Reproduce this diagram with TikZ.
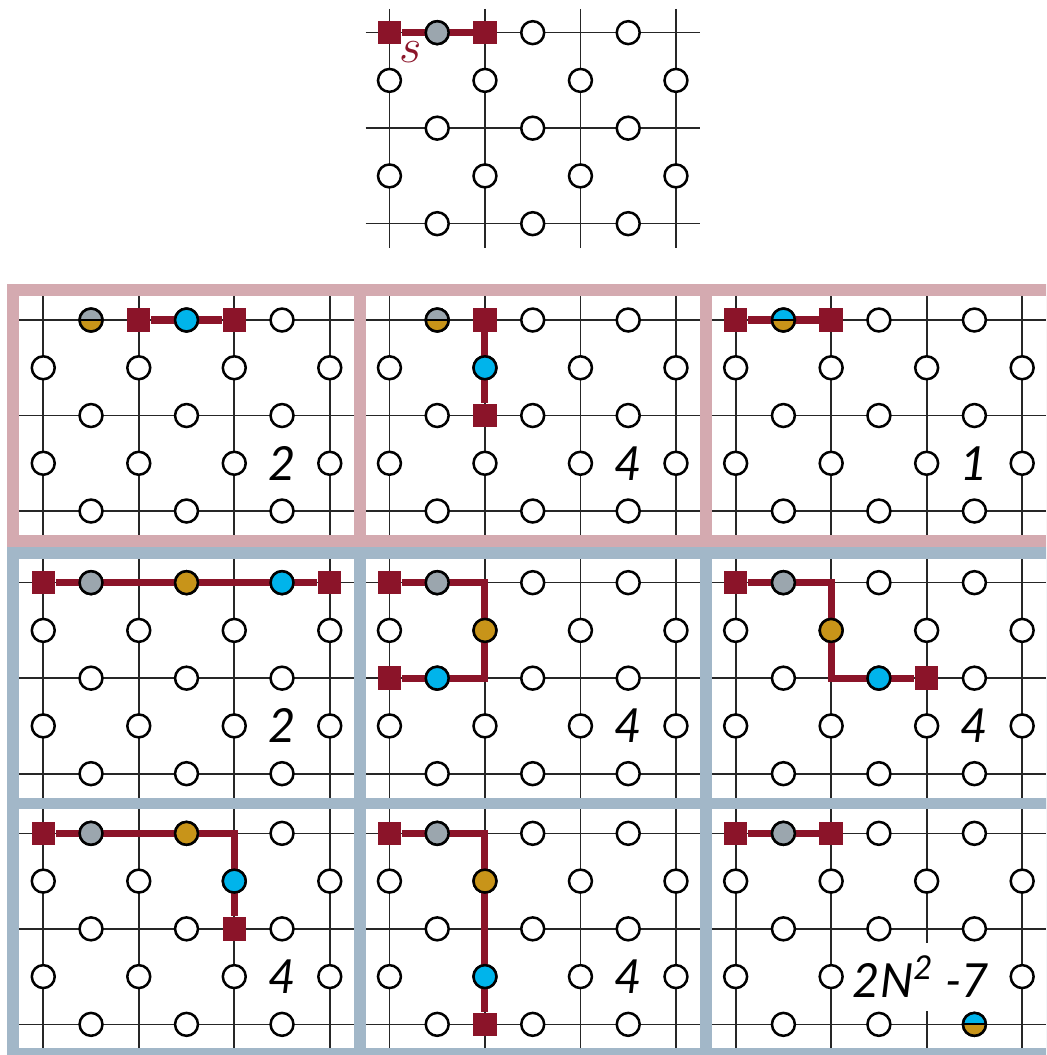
\documentclass[tikz,border=0pt]{standalone}
\usepackage{fontspec}
\usepackage{xcolor}
\usepackage{tikz}
\usetikzlibrary{positioning}

\newfontfamily\numfont{Lato}

\definecolor{wine}{RGB}{139,20,41}
\definecolor{slate}{RGB}{155,166,174}
\definecolor{ochre}{RGB}{200,148,25}
\definecolor{sky}{RGB}{0,180,235}
\definecolor{rose}{RGB}{212,170,176}
\definecolor{steel}{RGB}{162,183,200}

% one 4x3 lattice with empty sites on every bond
\newcommand{\lattice}{%
  \foreach \j in {0,1,2}
    \draw[bond] (-0.25,-\j) -- (3.25,-\j);
  \foreach \i in {0,...,3}
    \draw[bond] (\i,0.25) -- (\i,-2.25);
  \foreach \i in {0,1,2}
    \foreach \j in {0,1,2}
      \node[site] (h\i\j) at (\i+0.5,-\j) {};
  \foreach \i in {0,...,3}
    \foreach \j in {0,1}
      \node[site] (v\i\j) at (\i,-\j-0.5) {};
}

\begin{document}
\begin{tikzpicture}[
  bond/.style={line width=0.5pt, black!85},
  site/.style={circle, draw, line width=0.75pt, fill=white,
               minimum size=0.24cm, inner sep=0pt},
  endsq/.style={rectangle, fill=wine, minimum size=0.245cm, inner sep=0pt},
  chainline/.style={wine, line width=2.1pt},
  half/.style 2 args={site, path picture={
      \fill[#1] (path picture bounding box.north west)
                rectangle (path picture bounding box.east);
      \fill[#2] (path picture bounding box.west)
                rectangle (path picture bounding box.south east);
      \draw[line width=0.6pt] (path picture bounding box.west)
                -- (path picture bounding box.east);}},
  tally/.style={font=\numfont\itshape\fontsize{14}{16}\selectfont,
                fill=white, inner xsep=1pt, inner ysep=4pt},
  framebar/.style={line width=0.125cm}]

  \useasboundingbox (0,0) rectangle (10.953,-11.047);
  \clip (0,0) rectangle (10.953,-11.047);

  % starting string
  \begin{scope}[shift={(4.078,-0.342)}]
    \lattice
    \node[endsq] (a) at (0,0) {};
    \node[endsq] (b) at (1,0) {};
    \draw[chainline] (a) -- (b);
    \node[site, fill=slate] (g) at (0.5,0) {};
    \node[text=wine, font=\fontsize{15}{15}\selectfont] (slab) at (0.22,-0.2) {$s$};
  \end{scope}

  % first row
  \begin{scope}[shift={(0.453,-3.351)}]
    \lattice
    \node[half={slate}{ochre}] (g) at (0.5,0) {};
    \node[endsq] (a) at (1,0) {};
    \node[endsq] (b) at (2,0) {};
    \draw[chainline] (a) -- (b);
    \node[site, fill=sky] (c) at (1.5,0) {};
    \node[tally] (n) at (2.5,-1.5) {2};
  \end{scope}

  \begin{scope}[shift={(4.078,-3.351)}]
    \lattice
    \node[half={slate}{ochre}] (g) at (0.5,0) {};
    \node[endsq] (a) at (1,0) {};
    \node[endsq] (b) at (1,-1) {};
    \draw[chainline] (a) -- (b);
    \node[site, fill=sky] (c) at (1,-0.5) {};
    \node[tally] (n) at (2.5,-1.5) {4};
  \end{scope}

  \begin{scope}[shift={(7.703,-3.351)}]
    \lattice
    \node[endsq] (a) at (0,0) {};
    \node[endsq] (b) at (1,0) {};
    \draw[chainline] (a) -- (b);
    \node[half={sky}{ochre}] (c) at (0.5,0) {};
    \node[tally] (n) at (2.5,-1.5) {1};
  \end{scope}

  % second row
  \begin{scope}[shift={(0.453,-6.101)}]
    \lattice
    \node[endsq] (a) at (0,0) {};
    \node[endsq] (b) at (3,0) {};
    \draw[chainline] (a) -- (b);
    \node[site, fill=slate] (g) at (0.5,0) {};
    \node[site, fill=ochre] (o) at (1.5,0) {};
    \node[site, fill=sky]   (c) at (2.5,0) {};
    \node[tally] (n) at (2.5,-1.5) {2};
  \end{scope}

  \begin{scope}[shift={(4.078,-6.101)}]
    \lattice
    \node[endsq] (a) at (0,0) {};
    \node[endsq] (b) at (0,-1) {};
    \coordinate (k1) at (1,0);
    \coordinate (k2) at (1,-1);
    \draw[chainline] (a) -- (k1) -- (k2) -- (b);
    \node[site, fill=slate] (g) at (0.5,0) {};
    \node[site, fill=ochre] (o) at (1,-0.5) {};
    \node[site, fill=sky]   (c) at (0.5,-1) {};
    \node[tally] (n) at (2.5,-1.5) {4};
  \end{scope}

  \begin{scope}[shift={(7.703,-6.101)}]
    \lattice
    \node[endsq] (a) at (0,0) {};
    \node[endsq] (b) at (2,-1) {};
    \coordinate (k1) at (1,0);
    \coordinate (k2) at (1,-1);
    \draw[chainline] (a) -- (k1) -- (k2) -- (b);
    \node[site, fill=slate] (g) at (0.5,0) {};
    \node[site, fill=ochre] (o) at (1,-0.5) {};
    \node[site, fill=sky]   (c) at (1.5,-1) {};
    \node[tally] (n) at (2.5,-1.5) {4};
  \end{scope}

  % third row
  \begin{scope}[shift={(0.453,-8.726)}]
    \lattice
    \node[endsq] (a) at (0,0) {};
    \node[endsq] (b) at (2,-1) {};
    \draw[chainline] (a) -| (b);
    \node[site, fill=slate] (g) at (0.5,0) {};
    \node[site, fill=ochre] (o) at (1.5,0) {};
    \node[site, fill=sky]   (c) at (2,-0.5) {};
    \node[tally] (n) at (2.5,-1.5) {4};
  \end{scope}

  \begin{scope}[shift={(4.078,-8.726)}]
    \lattice
    \node[endsq] (a) at (0,0) {};
    \node[endsq] (b) at (1,-2) {};
    \draw[chainline] (a) -| (b);
    \node[site, fill=slate] (g) at (0.5,0) {};
    \node[site, fill=ochre] (o) at (1,-0.5) {};
    \node[site, fill=sky]   (c) at (1,-1.5) {};
    \node[tally] (n) at (2.5,-1.5) {4};
  \end{scope}

  \begin{scope}[shift={(7.703,-8.726)}]
    \lattice
    \node[endsq] (a) at (0,0) {};
    \node[endsq] (b) at (1,0) {};
    \draw[chainline] (a) -- (b);
    \node[site, fill=slate] (g) at (0.5,0) {};
    \node[half={sky}{ochre}] (c) at (2.5,-2) {};
    \node[tally] (n) at (1.94,-1.5) {2N\textsuperscript{2} -7};
  \end{scope}

  % frames
  \foreach \x in {0.453,4.078,7.703} {
    \draw[framebar, rose]  (\x-0.3125,-3.0385) rectangle ++(3.625,-2.625);
    \draw[framebar, steel] (\x-0.3125,-5.7885) rectangle ++(3.625,-2.625);
    \draw[framebar, steel] (\x-0.3125,-8.4135) rectangle ++(3.625,-2.625);
  }
\end{tikzpicture}
\end{document}
